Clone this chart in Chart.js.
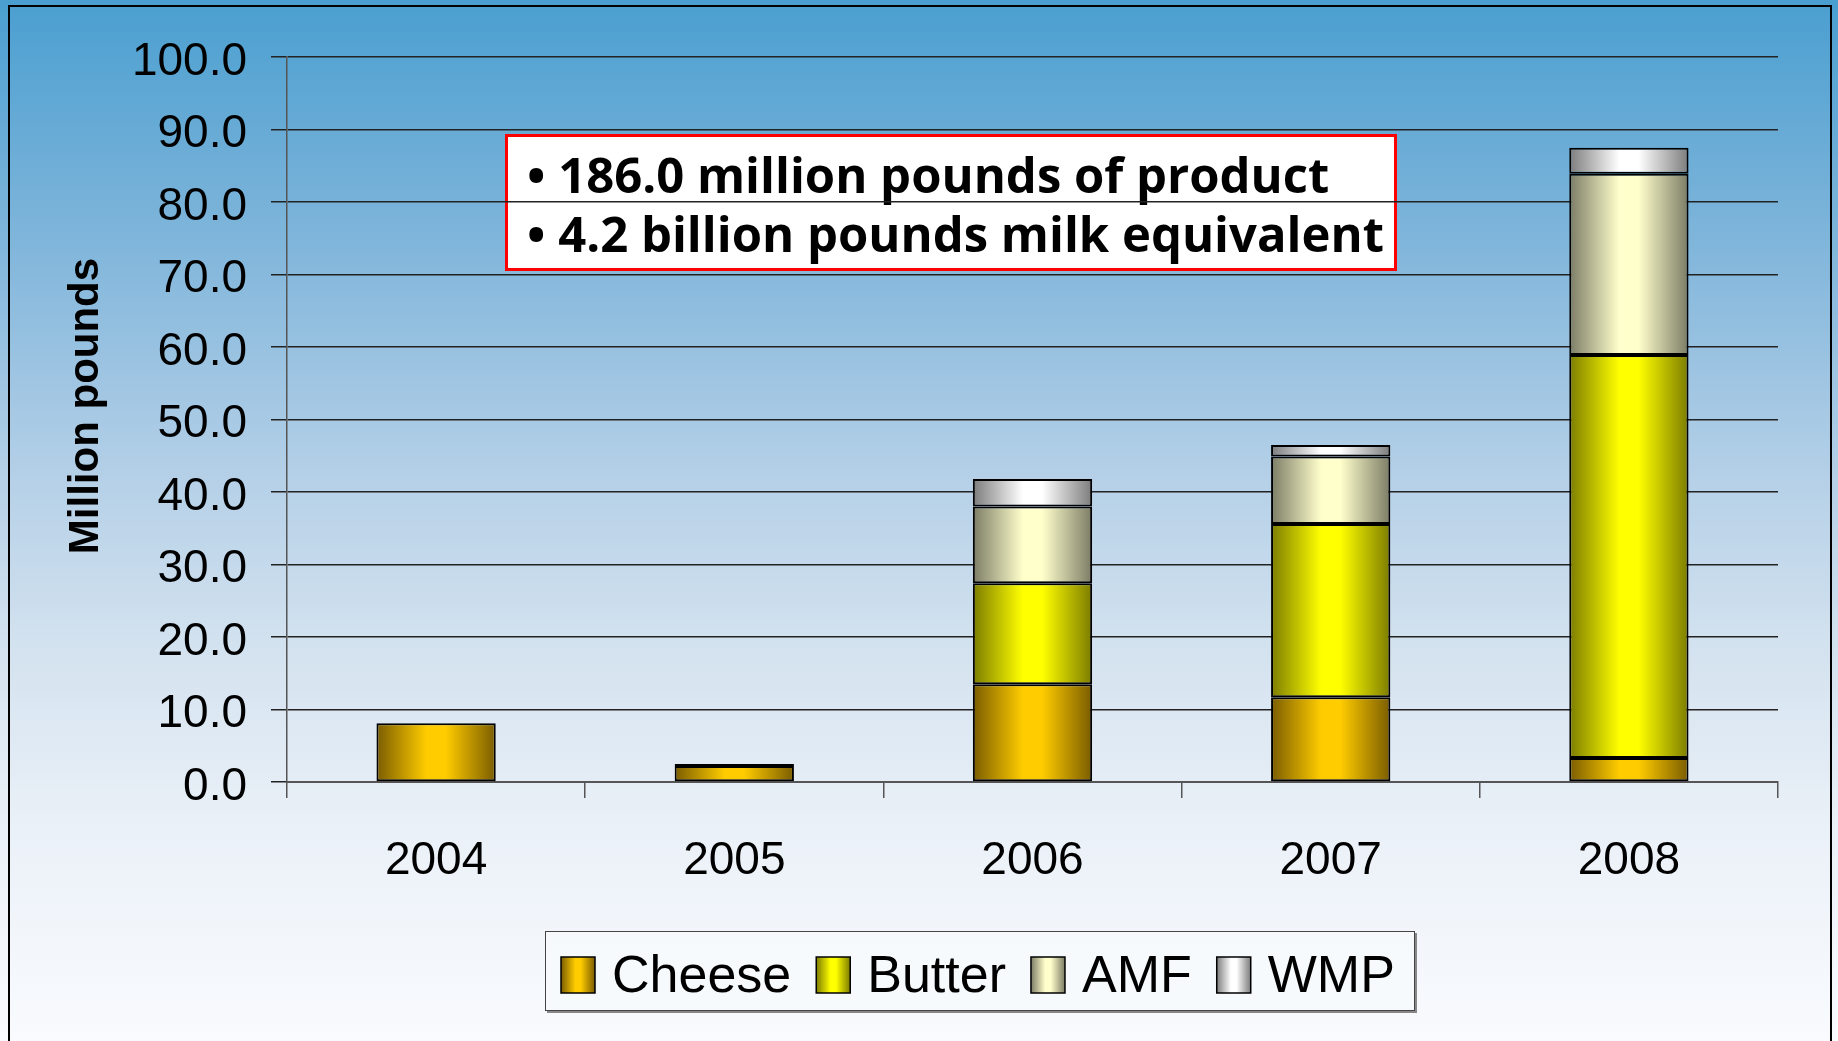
<!DOCTYPE html>
<html>
<head>
<meta charset="utf-8">
<script src="https://cdn.jsdelivr.net/npm/chart.js@4"></script>
<style>
  html, body { margin: 0; padding: 0; background: #fff; }
  #wrap { width: 1838px; height: 1041px; }
</style>
</head>
<body>
<div id="wrap"><canvas id="grafica" width="1838" height="1041"></canvas></div>
<script>
// data (million pounds)
var years = ['2004', '2005', '2006', '2007', '2008'];
var cheese = [8.1, 2.2, 13.5, 11.7, 3.3];
var butter = [0, 0.3, 13.9, 23.9, 55.6];
var amf = [0, 0, 10.6, 9.3, 25.0];
var wmp = [0, 0, 3.8, 1.6, 3.6];
var yTicks = [0, 10, 20, 30, 40, 50, 60, 70, 80, 90, 100];
var noteLines = ['\u2022 186.0 million pounds of product', '\u2022 4.2 billion pounds milk equivalent'];
var yTitle = 'Million pounds';

var anchoBarra = 0.4;

// dark edge / bright middle for the cylinder look
var tonos = {
  Cheese: ['#7a5c00', '#ffcc00'],
  Butter: ['#7c7c00', '#ffff00'],
  AMF: ['#7c7c66', '#ffffcc'],
  WMP: ['#7c7c7c', '#ffffff']
};

function degradado(ctx, x0, x1, par) {
  var g = ctx.createLinearGradient(x0, 0, x1, 0);
  g.addColorStop(0, par[0]);
  g.addColorStop(0.42, par[1]);
  g.addColorStop(0.58, par[1]);
  g.addColorStop(1, par[0]);
  return g;
}

function rellenoBarra(nombre) {
  return function (c) {
    var chart = c.chart;
    var xs = chart.scales.x;
    if (!chart.chartArea || !xs || c.dataIndex == null) return tonos[nombre][1];
    var cx = xs.getPixelForValue(c.dataIndex);
    var w = xs.width / years.length * anchoBarra;
    if (isNaN(cx) || !w) return tonos[nombre][1];
    return degradado(chart.ctx, cx - w / 2, cx + w / 2, tonos[nombre]);
  };
}

function serie(nombre, valores) {
  return {
    label: nombre,
    data: valores,
    backgroundColor: rellenoBarra(nombre),
    borderColor: '#000',
    borderWidth: 2,
    borderSkipped: false,
    barPercentage: anchoBarra,
    categoryPercentage: 1
  };
}

var decor = {
  id: 'decor',
  beforeDraw: function (chart) {
    var ctx = chart.ctx, w = chart.width, h = chart.height;
    ctx.save();
    // background
    var bg = ctx.createLinearGradient(0, 0, 0, h);
    bg.addColorStop(0, '#4a9fd0');
    bg.addColorStop(0.22, '#7db4da');
    bg.addColorStop(0.45, '#b3cfe7');
    bg.addColorStop(0.62, '#d3e2ef');
    bg.addColorStop(0.8, '#ebf1f8');
    bg.addColorStop(1, '#f9fbfe');
    ctx.fillStyle = bg;
    ctx.fillRect(0, 0, w, h);
    // frame
    ctx.strokeStyle = '#000';
    ctx.lineWidth = 2;
    ctx.strokeRect(9, 6, 1822, h + 20);
    // note box
    ctx.fillStyle = '#fff';
    ctx.fillRect(505, 134, 892, 137);
    ctx.strokeStyle = '#ff0000';
    ctx.lineWidth = 3;
    ctx.strokeRect(506.5, 135.5, 889, 134);
    ctx.fillStyle = '#000';
    ctx.font = 'bold 49px "Open Sans"';
    ctx.textBaseline = 'alphabetic';
    ctx.textAlign = 'left';
    ctx.fillText(noteLines[0], 527, 193);
    ctx.fillText(noteLines[1], 527, 252);
    ctx.restore();
  },
  afterDraw: function (chart) {
    var ctx = chart.ctx;
    ctx.save();
    // axis title
    ctx.translate(98, 406);
    ctx.rotate(-Math.PI / 2);
    ctx.font = 'bold 42px "Liberation Sans"';
    ctx.fillStyle = '#000';
    ctx.textAlign = 'center';
    ctx.textBaseline = 'alphabetic';
    ctx.fillText(yTitle, 0, 0);
    ctx.restore();

    // legend
    ctx.save();
    ctx.fillStyle = 'rgba(246,249,252,0.9)';
    ctx.fillRect(545, 931, 870, 80);
    ctx.strokeStyle = '#888';
    ctx.lineWidth = 2;
    ctx.beginPath();
    ctx.moveTo(547, 1012); ctx.lineTo(1416, 1012); ctx.lineTo(1416, 933);
    ctx.stroke();
    ctx.strokeStyle = '#444';
    ctx.lineWidth = 1;
    ctx.strokeRect(545.5, 931.5, 869, 79);

    ctx.font = '52px "Liberation Sans"';
    ctx.textBaseline = 'alphabetic';
    var x = 561;
    chart.data.datasets.forEach(function (ds) {
      ctx.fillStyle = degradado(ctx, x, x + 34, tonos[ds.label]);
      ctx.fillRect(x, 957, 34, 36);
      ctx.strokeStyle = '#000';
      ctx.lineWidth = 1.5;
      ctx.strokeRect(x, 957, 34, 36);
      ctx.fillStyle = '#000';
      ctx.fillText(ds.label, x + 34 + 17, 992);
      x += 34 + 17 + ctx.measureText(ds.label).width + 25;
    });
    ctx.restore();
  }
};

new Chart(document.getElementById('grafica').getContext('2d'), {
  type: 'bar',
  data: {
    labels: years,
    datasets: [
      serie('Cheese', cheese),
      serie('Butter', butter),
      serie('AMF', amf),
      serie('WMP', wmp)
    ]
  },
  options: {
    responsive: false,
    devicePixelRatio: 1,
    animation: false,
    layout: { padding: { left: 0, top: 57, right: 60, bottom: 0 } },
    plugins: {
      legend: { display: false },
      tooltip: { enabled: false }
    },
    scales: {
      x: {
        stacked: true,
        afterFit: function (s) { s.height = 259; },
        grid: {
          offset: true,
          drawOnChartArea: false,
          tickLength: 16,
          color: '#555',
          lineWidth: 1.5
        },
        border: { display: true, color: '#555', width: 2 },
        ticks: {
          color: '#000',
          padding: 36,
          font: { family: 'Liberation Sans', size: 46 }
        }
      },
      y: {
        stacked: true,
        min: 0,
        max: 100,
        afterFit: function (s) { s.width = 287; },
        afterBuildTicks: function (s) {
          s.ticks = yTicks.map(function (v) { return { value: v }; });
        },
        grid: {
          color: '#222',
          lineWidth: 1.5,
          tickLength: 16
        },
        border: { display: true, color: '#555', width: 1.5 },
        ticks: {
          color: '#000',
          padding: 24,
          labelOffset: 5,
          font: { family: 'Liberation Sans', size: 46 },
          callback: function (v) { return Number(v).toFixed(1); }
        }
      }
    }
  },
  plugins: [decor]
});
</script>
</body>
</html>
